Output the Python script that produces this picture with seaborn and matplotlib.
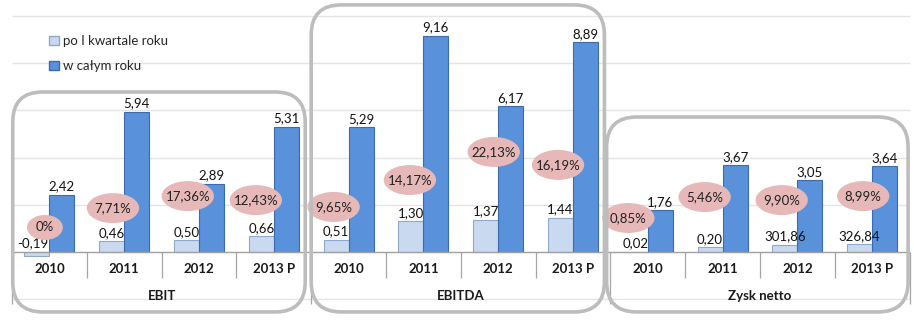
import numpy as np
import pandas as pd
import seaborn as sns
import matplotlib
import matplotlib.pyplot as plt
from matplotlib.patches import Ellipse, FancyBboxPatch, Patch
from matplotlib.transforms import IdentityTransform

sns.set_style("white")
plt.rcParams['font.family'] = ['Lato', 'DejaVu Sans']

# ---------------- data ----------------
groups = ["EBIT", "EBITDA", "Zysk netto"]
years = ["2010", "2011", "2012", "2013 P"]
series_names = ["po I kwartale roku", "w całym roku"]
q1_values = [-0.19, 0.46, 0.50, 0.66, 0.51, 1.30, 1.37, 1.44, 0.02, 0.20, 0.30, 0.33]
q1_labels = ["-0,19", "0,46", "0,50", "0,66", "0,51", "1,30", "1,37", "1,44",
             "0,02", "0,20", "301,86", "326,84"]
year_values = [2.42, 5.94, 2.89, 5.31, 5.29, 9.16, 6.17, 8.89, 1.76, 3.67, 3.05, 3.64]
margin_labels = ["0%", "7,71%", "17,36%", "12,43%", "9,65%", "14,17%", "22,13%",
                 "16,19%", "0,85%", "5,46%", "9,90%", "8,99%"]

# ---------------- layout (annotation placement) ----------------
pct_dx = [-0.06, -0.15, -0.15, -0.24, -0.20, -0.18, -0.06, -0.20, -0.26, -0.24, -0.21, -0.12]
pct_y = [1.04, 1.86, 2.37, 2.20, 1.91, 3.05, 4.24, 3.69, 1.44, 2.33, 2.20, 2.37]
frame_tops = [6.78, 10.47, 5.72]

cats = [f"{g} {y}" for g in groups for y in years]
df = pd.DataFrame({
    "cat": cats * 2,
    "series": [series_names[0]] * len(cats) + [series_names[1]] * len(cats),
    "value": q1_values + year_values,
})

W, H = 914, 325
fig = plt.figure(figsize=(W / 100, H / 100), dpi=100)
ax = fig.add_axes([0, 0, 1, 1])

light = "#C9DAF0"
blue = "#5A91DB"
FS = 9.5

sns.barplot(data=df, x="cat", y="value", hue="series", order=cats,
            hue_order=series_names, palette=[light, blue], width=0.67,
            gap=0, ax=ax, legend=False, linewidth=0.8, saturation=1,
            err_kws={"linewidth": 0})
for i, cont in enumerate(ax.containers):
    for bar in cont:
        bar.set_edgecolor("#8FA9CC" if i == 0 else "#3C6AAE")
        bar.set_zorder(3)

# axis limits: px -> data
px_per_cat = 74.8
px_per_unit = 23.6
x_left = -0.5 - 12 / px_per_cat
x_right = x_left + W / px_per_cat
y_top = 252 / px_per_unit
y_bottom = y_top - H / px_per_unit
ax.set_xlim(x_left, x_right)
ax.set_ylim(y_bottom, y_top)
ax.axis("off")

n = len(cats)
# gridlines
for gv in [-2, 2, 4, 6, 8, 10]:
    ax.hlines(gv, -0.5, n - 0.5, color="#E4E4E4", lw=1, zorder=1)
ax.hlines(0, -0.5, n - 0.5, color="#A0A0A0", lw=1, zorder=4)

# category separators
for k in range(n + 1):
    if k % 4 == 0:
        ax.vlines(k - 0.5, -2.2, 0, color="#A6A6A6", lw=0.9, zorder=2)
    else:
        ax.vlines(k - 0.5, -1.1, 0, color="#A6A6A6", lw=0.9, zorder=2)

# category labels
for i, c in enumerate(cats):
    ax.text(i, -0.72, years[i % 4], ha="center", va="center",
            fontsize=FS, fontweight="bold", color="#1A1A1A")
for gi, g in enumerate(groups):
    ax.text(gi * 4 + 1.5, -1.86, g, ha="center", va="center",
            fontsize=FS, fontweight="bold", color="#1A1A1A")

# value labels
for i, bar in enumerate(ax.containers[0]):
    xc = bar.get_x() + bar.get_width() / 2
    if q1_values[i] < 0:
        xc -= 0.06
    ax.text(xc, max(q1_values[i], 0) + 0.1, q1_labels[i], ha="center",
            va="bottom", fontsize=FS, color="#111111", zorder=6)
for i, bar in enumerate(ax.containers[1]):
    xc = bar.get_x() + bar.get_width() / 2
    ax.text(xc, year_values[i] + 0.1, f"{year_values[i]:.2f}".replace(".", ","),
            ha="center", va="bottom", fontsize=FS, color="#111111", zorder=6)

# margin ellipses
for i, lab in enumerate(margin_labels):
    cx = i + pct_dx[i]
    w = 0.48 if len(lab) <= 2 else 0.70
    h = 1.06 if len(lab) <= 2 else 1.27
    ax.add_patch(Ellipse((cx, pct_y[i]), w, h, facecolor="#E6B8B7",
                         edgecolor="none", zorder=7))
    ax.text(cx, pct_y[i], lab, ha="center", va="center", fontsize=FS,
            color="#222222", zorder=8)

# rounded frames drawn in pixel space
for gi in range(3):
    x0 = gi * 4 - 0.49 if gi == 0 else gi * 4 - 0.5 + (0.0 if gi == 1 else -0.05)
    x1 = gi * 4 + 3.42 + (0 if gi < 2 else 0.06)
    (px0, py0) = ax.transData.transform((x0, -2.54))
    (px1, py1) = ax.transData.transform((x1, frame_tops[gi]))
    ax.add_patch(FancyBboxPatch((px0, py0), px1 - px0, py1 - py0,
                                boxstyle="round,pad=0,rounding_size=30",
                                transform=IdentityTransform(), facecolor="none",
                                edgecolor="#BDBDBD", lw=2.6, zorder=9))

# legend
handles = [Patch(facecolor=light, edgecolor="#8FA9CC"),
           Patch(facecolor=blue, edgecolor="#3C6AAE")]
ax.legend(handles, series_names, loc="upper left",
          bbox_to_anchor=(44 / W, 1 - 30 / H), frameon=False, fontsize=FS,
          handlelength=0.7, handleheight=0.7, handletextpad=0.35,
          labelspacing=1.0, borderaxespad=0)

fig.savefig("out.png", dpi=100)
